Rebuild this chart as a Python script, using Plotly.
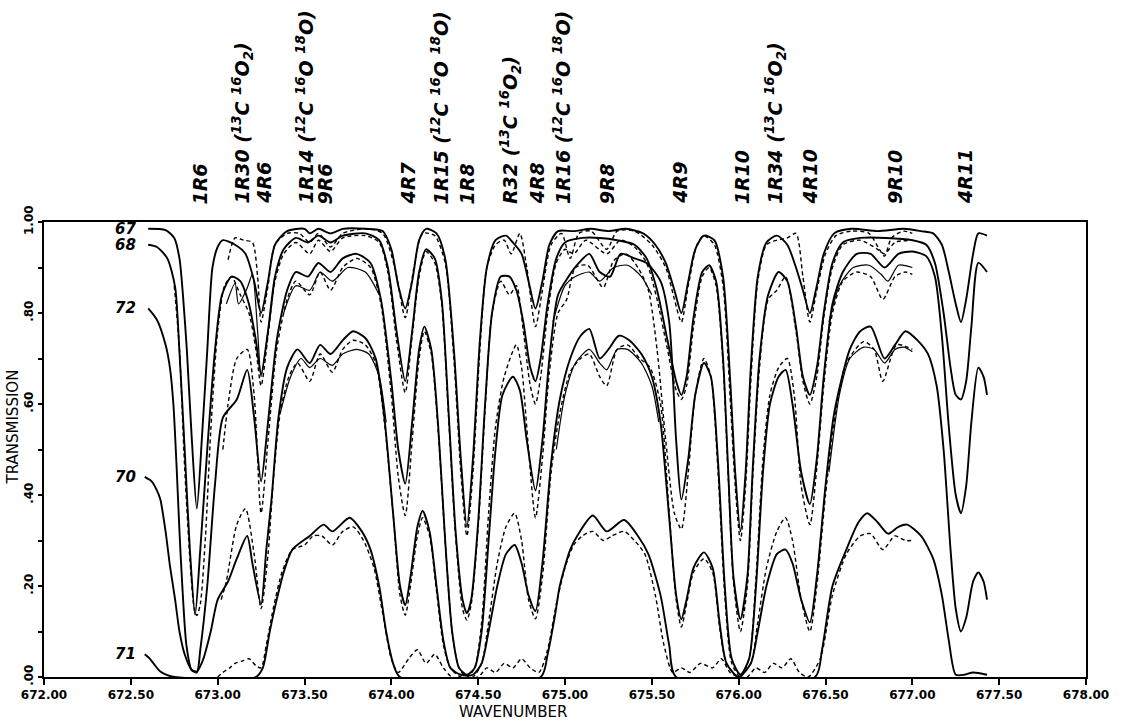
import plotly.graph_objects as go

# ---------------- data (wavenumber, transmission) ----------------
LEVEL_NAMES = ["67", "68", "72", "70", "71"]
LEVEL_START = [0.985, 0.95, 0.81, 0.44, 0.05]

CALC_67 = [(672.60,0.985),(672.70,0.982),(672.75,0.965),(672.78,0.92),(672.80,0.84),(672.823,0.716),(672.85,0.53),(672.88,0.37),(672.91,0.53),(672.94,0.717),(672.97,0.90),(673.00,0.945),(673.03,0.96),(673.10,0.95),(673.16,0.93),(673.21,0.87),(673.25,0.80),(673.29,0.87),(673.33,0.95),(673.40,0.98),(673.50,0.985),(673.53,0.975),(673.58,0.985),(673.65,0.975),(673.72,0.985),(673.85,0.985),(673.95,0.98),(674.00,0.94),(674.04,0.86),(674.08,0.81),(674.12,0.87),(674.16,0.96),(674.20,0.985),(674.26,0.975),(674.31,0.92),(674.36,0.72),(674.40,0.48),(674.435,0.33),(674.47,0.48),(674.51,0.74),(674.55,0.90),(674.60,0.96),(674.66,0.97),(674.70,0.955),(674.75,0.93),(674.79,0.87),(674.83,0.81),(674.87,0.87),(674.91,0.95),(674.96,0.98),(675.05,0.98),(675.15,0.985),(675.25,0.98),(675.35,0.985),(675.45,0.975),(675.52,0.95),(675.58,0.91),(675.63,0.85),(675.67,0.80),(675.71,0.87),(675.75,0.94),(675.80,0.97),(675.86,0.96),(675.91,0.88),(675.95,0.66),(675.98,0.45),(676.01,0.32),(676.04,0.45),(676.07,0.68),(676.11,0.88),(676.16,0.955),(676.22,0.97),(676.28,0.95),(676.33,0.90),(676.37,0.85),(676.41,0.80),(676.45,0.86),(676.49,0.93),(676.55,0.975),(676.65,0.985),(676.80,0.98),(676.95,0.985),(677.05,0.98),(677.12,0.975),(677.17,0.95),(677.21,0.89),(677.25,0.82),(677.28,0.78),(677.31,0.83),(677.35,0.93),(677.38,0.975),(677.43,0.97)]

CALC_68 = [(672.60,0.95),(672.65,0.945),(672.71,0.92),(672.755,0.857),(672.78,0.715),(672.81,0.50),(672.84,0.28),(672.87,0.137),(672.90,0.28),(672.94,0.50),(672.985,0.72),(673.025,0.84),(673.08,0.88),(673.13,0.87),(673.18,0.82),(673.22,0.74),(673.25,0.665),(673.29,0.76),(673.33,0.88),(673.38,0.94),(673.45,0.965),(673.52,0.955),(673.58,0.97),(673.65,0.955),(673.72,0.97),(673.85,0.975),(673.93,0.96),(673.98,0.90),(674.03,0.76),(674.08,0.65),(674.12,0.76),(674.16,0.89),(674.20,0.94),(674.25,0.92),(674.29,0.83),(674.33,0.58),(674.37,0.32),(674.41,0.17),(674.435,0.14),(674.46,0.17),(674.50,0.34),(674.54,0.60),(674.58,0.80),(674.63,0.88),(674.68,0.88),(674.72,0.85),(674.76,0.78),(674.80,0.68),(674.83,0.65),(674.86,0.70),(674.90,0.82),(674.95,0.92),(675.00,0.955),(675.10,0.965),(675.20,0.965),(675.30,0.96),(675.40,0.95),(675.47,0.92),(675.53,0.85),(675.59,0.74),(675.64,0.65),(675.67,0.62),(675.70,0.66),(675.74,0.79),(675.79,0.89),(675.83,0.905),(675.87,0.87),(675.91,0.70),(675.94,0.45),(675.97,0.22),(676.01,0.127),(676.05,0.22),(676.08,0.45),(676.12,0.70),(676.17,0.84),(676.23,0.89),(676.28,0.87),(676.33,0.77),(676.37,0.66),(676.41,0.62),(676.45,0.68),(676.49,0.80),(676.54,0.91),(676.60,0.955),(676.70,0.965),(676.85,0.965),(677.00,0.96),(677.08,0.95),(677.13,0.91),(677.18,0.80),(677.22,0.68),(677.25,0.62),(677.28,0.61),(677.31,0.65),(677.34,0.77),(677.38,0.91),(677.43,0.89)]

CALC_72 = [(672.60,0.81),(672.65,0.785),(672.70,0.73),(672.725,0.68),(672.745,0.60),(672.765,0.45),(672.78,0.32),(672.795,0.21),(672.82,0.07),(672.85,0.015),(672.88,0.01),(672.90,0.06),(672.94,0.20),(672.985,0.425),(673.03,0.57),(673.11,0.61),(673.17,0.675),(673.21,0.57),(673.25,0.43),(673.29,0.56),(673.34,0.74),(673.40,0.85),(673.45,0.89),(673.52,0.88),(673.58,0.91),(673.65,0.89),(673.72,0.92),(673.80,0.93),(673.88,0.91),(673.94,0.83),(674.00,0.65),(674.04,0.50),(674.08,0.425),(674.12,0.56),(674.16,0.72),(674.19,0.77),(674.23,0.72),(674.27,0.55),(674.31,0.30),(674.35,0.10),(674.39,0.02),(674.435,0.005),(674.48,0.02),(674.52,0.10),(674.56,0.30),(674.60,0.50),(674.64,0.62),(674.70,0.66),(674.74,0.63),(674.78,0.52),(674.83,0.41),(674.87,0.52),(674.91,0.70),(674.96,0.84),(675.02,0.88),(675.08,0.91),(675.14,0.93),(675.20,0.89),(675.26,0.88),(675.32,0.93),(675.40,0.92),(675.47,0.91),(675.55,0.87),(675.60,0.78),(675.64,0.52),(675.67,0.39),(675.71,0.48),(675.75,0.62),(675.80,0.69),(675.84,0.66),(675.88,0.48),(675.92,0.20),(675.96,0.04),(676.01,0.005),(676.06,0.04),(676.10,0.20),(676.14,0.45),(676.18,0.60),(676.23,0.66),(676.27,0.675),(676.31,0.60),(676.36,0.45),(676.41,0.38),(676.45,0.48),(676.49,0.66),(676.54,0.82),(676.60,0.89),(676.68,0.93),(676.76,0.93),(676.84,0.90),(676.92,0.93),(677.00,0.935),(677.08,0.925),(677.13,0.88),(677.17,0.75),(677.21,0.55),(677.25,0.40),(677.28,0.36),(677.31,0.42),(677.34,0.56),(677.38,0.68),(677.41,0.66),(677.43,0.62)]

CALC_70 = [(672.58,0.44),(672.62,0.43),(672.65,0.41),(672.67,0.39),(672.70,0.32),(672.725,0.245),(672.755,0.17),(672.78,0.10),(672.81,0.05),(672.85,0.016),(672.88,0.012),(672.915,0.037),(672.96,0.10),(673.00,0.17),(673.06,0.21),(673.11,0.26),(673.17,0.31),(673.20,0.25),(673.25,0.16),(673.28,0.28),(673.31,0.39),(673.35,0.57),(673.40,0.68),(673.46,0.72),(673.53,0.69),(673.59,0.73),(673.65,0.71),(673.72,0.74),(673.78,0.76),(673.85,0.745),(673.91,0.70),(673.96,0.57),(674.01,0.36),(674.05,0.20),(674.08,0.158),(674.11,0.22),(674.15,0.33),(674.18,0.365),(674.22,0.32),(674.26,0.20),(674.30,0.08),(674.34,0.02),(674.40,0.005),(674.47,0.005),(674.52,0.03),(674.56,0.10),(674.61,0.20),(674.66,0.27),(674.71,0.29),(674.75,0.25),(674.79,0.18),(674.83,0.145),(674.87,0.25),(674.92,0.47),(674.97,0.61),(675.03,0.70),(675.09,0.75),(675.14,0.765),(675.20,0.70),(675.25,0.72),(675.31,0.75),(675.37,0.74),(675.44,0.71),(675.50,0.66),(675.55,0.56),(675.60,0.35),(675.64,0.18),(675.67,0.127),(675.70,0.17),(675.74,0.24),(675.80,0.274),(675.85,0.24),(675.89,0.12),(675.93,0.03),(676.00,0.0),(676.07,0.03),(676.11,0.10),(676.16,0.20),(676.22,0.27),(676.27,0.28),(676.31,0.25),(676.36,0.17),(676.41,0.12),(676.45,0.22),(676.50,0.42),(676.55,0.58),(676.64,0.72),(676.70,0.76),(676.76,0.77),(676.84,0.70),(676.90,0.73),(676.96,0.76),(677.03,0.74),(677.09,0.71),(677.14,0.64),(677.18,0.50),(677.22,0.28),(677.25,0.15),(677.28,0.10),(677.31,0.13),(677.35,0.21),(677.38,0.23),(677.41,0.21),(677.43,0.17)]

CALC_71 = [(672.58,0.05),(672.61,0.04),(672.64,0.025),(672.67,0.012),(672.71,0.004),(672.75,0.0),(673.22,0.0),(673.26,0.02),(673.30,0.10),(673.34,0.17),(673.38,0.23),(673.43,0.28),(673.53,0.31),(673.61,0.335),(673.66,0.32),(673.76,0.35),(673.83,0.32),(673.88,0.28),(673.93,0.20),(673.97,0.10),(674.01,0.03),(674.05,0.0),(674.86,0.0),(674.90,0.05),(674.94,0.13),(674.97,0.20),(675.03,0.28),(675.07,0.31),(675.16,0.355),(675.24,0.32),(675.34,0.345),(675.42,0.31),(675.48,0.27),(675.55,0.18),(675.60,0.07),(675.64,0.0),(676.44,0.0),(676.48,0.06),(676.54,0.20),(676.62,0.28),(676.69,0.34),(676.74,0.36),(676.80,0.34),(676.86,0.315),(676.92,0.33),(676.97,0.335),(677.05,0.31),(677.12,0.26),(677.17,0.18),(677.21,0.08),(677.25,0.005),(677.30,0.005),(677.35,0.01),(677.43,0.005)]

DASH_67 = [(673.06,0.917),(673.10,0.965),(673.15,0.96),(673.20,0.955),(673.23,0.88),(673.25,0.78),(673.29,0.86),(673.33,0.95),(673.40,0.975),(673.47,0.975),(673.53,0.955),(673.58,0.975),(673.65,0.945),(673.72,0.975),(673.85,0.985),(673.95,0.975),(674.02,0.90),(674.08,0.79),(674.13,0.90),(674.18,0.975),(674.25,0.97),(674.31,0.91),(674.36,0.70),(674.40,0.45),(674.435,0.31),(674.47,0.45),(674.51,0.72),(674.55,0.90),(674.60,0.95),(674.65,0.96),(674.69,0.93),(674.74,0.975),(674.78,0.90),(674.83,0.77),(674.87,0.85),(674.92,0.95),(674.98,0.975),(675.03,0.92),(675.08,0.975),(675.15,0.98),(675.24,0.94),(675.30,0.98),(675.40,0.98),(675.50,0.95),(675.58,0.90),(675.63,0.83),(675.67,0.78),(675.71,0.86),(675.76,0.95),(675.80,0.97),(675.86,0.95),(675.91,0.86),(675.95,0.62),(675.98,0.42),(676.01,0.30),(676.04,0.42),(676.07,0.65),(676.11,0.87),(676.16,0.95),(676.22,0.96),(676.28,0.965),(676.33,0.975),(676.37,0.88),(676.41,0.78),(676.45,0.85),(676.50,0.93),(676.56,0.97),(676.65,0.98),(676.75,0.975),(676.81,0.94),(676.84,0.925),(676.88,0.965),(676.95,0.98),(677.00,0.975)]

DASH_68 = [(672.75,0.86),(672.78,0.72),(672.81,0.46),(672.84,0.26),(672.865,0.15),(672.88,0.135),(672.90,0.16),(672.93,0.31),(672.96,0.54),(673.00,0.76),(673.04,0.86),(673.08,0.88),(673.13,0.84),(673.18,0.80),(673.22,0.72),(673.25,0.64),(673.29,0.75),(673.33,0.87),(673.38,0.93),(673.45,0.955),(673.53,0.93),(673.58,0.96),(673.65,0.935),(673.72,0.965),(673.85,0.97),(673.93,0.955),(673.98,0.89),(674.03,0.74),(674.08,0.625),(674.12,0.75),(674.16,0.88),(674.20,0.935),(674.25,0.91),(674.29,0.82),(674.33,0.57),(674.37,0.31),(674.41,0.15),(674.435,0.125),(674.46,0.16),(674.50,0.33),(674.54,0.59),(674.58,0.80),(674.63,0.87),(674.68,0.84),(674.72,0.86),(674.76,0.76),(674.80,0.64),(674.83,0.60),(674.86,0.66),(674.90,0.80),(674.95,0.91),(675.00,0.94),(675.05,0.93),(675.12,0.96),(675.24,0.93),(675.32,0.96),(675.40,0.945),(675.47,0.91),(675.53,0.83),(675.59,0.72),(675.64,0.63),(675.67,0.61),(675.70,0.64),(675.74,0.77),(675.79,0.88),(675.83,0.90),(675.87,0.86),(675.91,0.69),(675.94,0.44),(675.97,0.21),(676.01,0.10),(676.05,0.20),(676.08,0.43),(676.12,0.68),(676.17,0.83),(676.22,0.85),(676.27,0.88),(676.33,0.76),(676.37,0.65),(676.41,0.60),(676.45,0.66),(676.49,0.79),(676.54,0.90),(676.60,0.95),(676.70,0.96),(676.80,0.94),(676.84,0.93),(676.90,0.955),(677.00,0.96)]

DASH_72 = [(673.03,0.50),(673.06,0.60),(673.11,0.70),(673.17,0.72),(673.21,0.62),(673.25,0.36),(673.29,0.52),(673.34,0.72),(673.40,0.83),(673.45,0.87),(673.53,0.84),(673.59,0.89),(673.65,0.85),(673.72,0.90),(673.80,0.92),(673.88,0.90),(673.94,0.82),(674.00,0.62),(674.04,0.44),(674.08,0.355),(674.12,0.52),(674.16,0.70),(674.19,0.76),(674.23,0.71),(674.27,0.54),(674.31,0.30),(674.35,0.10),(674.39,0.02),(674.435,0.0),(674.48,0.02),(674.52,0.12),(674.56,0.36),(674.60,0.55),(674.65,0.66),(674.72,0.73),(674.75,0.68),(674.79,0.50),(674.83,0.35),(674.87,0.48),(674.91,0.67),(674.96,0.80),(675.01,0.83),(675.06,0.90),(675.13,0.905),(675.22,0.856),(675.28,0.915),(675.35,0.93),(675.42,0.90),(675.48,0.85),(675.53,0.72),(675.58,0.52),(675.63,0.36),(675.67,0.325),(675.71,0.45),(675.75,0.62),(675.80,0.70),(675.84,0.66),(675.88,0.46),(675.92,0.18),(675.96,0.03),(676.01,0.0),(676.06,0.04),(676.10,0.22),(676.14,0.48),(676.18,0.62),(676.23,0.68),(676.28,0.70),(676.32,0.62),(676.36,0.42),(676.41,0.335),(676.45,0.46),(676.49,0.64),(676.54,0.80),(676.60,0.87),(676.68,0.89),(676.76,0.88),(676.83,0.83),(676.90,0.88),(676.96,0.89),(677.00,0.885)]

DASH_70 = [(673.02,0.17),(673.05,0.21),(673.11,0.335),(673.16,0.37),(673.21,0.27),(673.25,0.15),(673.29,0.27),(673.32,0.43),(673.36,0.58),(673.41,0.66),(673.46,0.69),(673.53,0.65),(673.59,0.71),(673.66,0.67),(673.72,0.72),(673.78,0.74),(673.85,0.73),(673.91,0.69),(673.96,0.56),(674.01,0.36),(674.05,0.18),(674.08,0.136),(674.11,0.20),(674.15,0.31),(674.18,0.35),(674.22,0.31),(674.26,0.19),(674.30,0.07),(674.34,0.02),(674.40,0.0),(674.47,0.0),(674.52,0.03),(674.56,0.12),(674.61,0.25),(674.66,0.33),(674.71,0.36),(674.75,0.30),(674.79,0.17),(674.83,0.128),(674.87,0.22),(674.92,0.45),(674.97,0.58),(675.03,0.67),(675.09,0.70),(675.14,0.71),(675.20,0.66),(675.24,0.64),(675.30,0.72),(675.36,0.73),(675.43,0.70),(675.49,0.68),(675.55,0.60),(675.60,0.36),(675.64,0.17),(675.67,0.11),(675.70,0.16),(675.74,0.23),(675.80,0.26),(675.85,0.23),(675.89,0.11),(675.93,0.03),(676.00,0.0),(676.07,0.03),(676.11,0.12),(676.16,0.24),(676.22,0.32),(676.27,0.35),(676.31,0.30),(676.36,0.17),(676.41,0.10),(676.45,0.20),(676.50,0.40),(676.55,0.56),(676.62,0.69),(676.72,0.737),(676.78,0.72),(676.83,0.65),(676.91,0.73),(677.00,0.72)]

DASH_71 = [(673.00,0.0),(673.03,0.01),(673.07,0.02),(673.10,0.03),(673.14,0.035),(673.18,0.04),(673.22,0.025),(673.25,0.02),(673.28,0.07),(673.32,0.15),(673.37,0.23),(673.43,0.28),(673.50,0.29),(673.55,0.31),(673.60,0.31),(673.66,0.29),(673.72,0.32),(673.78,0.33),(673.84,0.30),(673.90,0.24),(673.95,0.14),(674.00,0.04),(674.04,0.01),(674.10,0.04),(674.15,0.06),(674.20,0.03),(674.25,0.05),(674.30,0.02),(674.35,0.0),(674.50,0.0),(674.55,0.02),(674.60,0.01),(674.65,0.03),(674.70,0.02),(674.75,0.04),(674.80,0.02),(674.85,0.01),(674.90,0.06),(674.95,0.16),(675.00,0.24),(675.05,0.29),(675.10,0.31),(675.16,0.32),(675.22,0.30),(675.27,0.31),(675.34,0.32),(675.40,0.30),(675.46,0.27),(675.52,0.18),(675.57,0.07),(675.62,0.01),(675.67,0.02),(675.72,0.01),(675.78,0.03),(675.85,0.02),(675.90,0.04),(675.95,0.01),(676.00,0.0),(676.05,0.0),(676.10,0.02),(676.15,0.01),(676.20,0.03),(676.25,0.02),(676.30,0.04),(676.35,0.01),(676.40,0.0),(676.47,0.04),(676.54,0.18),(676.62,0.27),(676.70,0.31),(676.76,0.315),(676.83,0.28),(676.90,0.31),(676.96,0.30),(677.00,0.30)]

MEAS_68 = [(673.05,0.82),(673.10,0.865),(673.12,0.82),(673.17,0.855),(673.20,0.885),(673.23,0.76),(673.25,0.66),(673.29,0.76),(673.33,0.88)]

MEAS_72_A = [(673.38,0.80),(673.45,0.86),(673.53,0.85),(673.59,0.89),(673.66,0.87),(673.75,0.90),(673.85,0.89),(673.93,0.84)]
MEAS_72_B = [(674.93,0.78),(675.00,0.86),(675.06,0.88),(675.14,0.89),(675.20,0.87),(675.28,0.90),(675.36,0.905),(675.44,0.88),(675.50,0.84)]
MEAS_72_C = [(676.52,0.78),(676.58,0.86),(676.66,0.90),(676.75,0.905),(676.82,0.885),(676.86,0.87),(676.92,0.905),(677.00,0.90)]

MEAS_70_A = [(673.36,0.58),(673.42,0.66),(673.48,0.70),(673.53,0.68),(673.59,0.70),(673.66,0.685),(673.72,0.71),(673.80,0.72),(673.87,0.71),(673.93,0.66),(673.97,0.56)]
MEAS_70_B = [(674.95,0.50),(675.00,0.62),(675.06,0.69),(675.14,0.72),(675.20,0.69),(675.24,0.675),(675.30,0.72),(675.36,0.72),(675.44,0.69),(675.50,0.64),(675.54,0.56)]
MEAS_70_C = [(676.52,0.45),(676.58,0.62),(676.64,0.70),(676.72,0.725),(676.78,0.72),(676.84,0.69),(676.90,0.72),(676.95,0.725),(677.00,0.715)]

LINE_LABELS = [
    ("1R6", 672.898),
    ("1R30 (<sup>13</sup>C <sup>16</sup>O<sub>2</sub>)", 673.146),
    ("4R6", 673.265),
    ("1R14 (<sup>12</sup>C <sup>16</sup>O <sup>18</sup>O)", 673.503),
    ("9R6", 673.618),
    ("4R7", 674.095),
    ("1R15 (<sup>12</sup>C <sup>16</sup>O <sup>18</sup>O)", 674.28),
    ("1R8", 674.435),
    ("R32 (<sup>13</sup>C <sup>16</sup>O<sub>2</sub>)", 674.683),
    ("4R8", 674.84),
    ("1R16 (<sup>12</sup>C <sup>16</sup>O <sup>18</sup>O)", 674.98),
    ("9R8", 675.24),
    ("4R9", 675.66),
    ("1R10", 676.02),
    ("1R34 (<sup>13</sup>C <sup>16</sup>O<sub>2</sub>)", 676.21),
    ("4R10", 676.41),
    ("9R10", 676.90),
    ("4R11", 677.30),
]

X_TICKS = [672.0, 672.5, 673.0, 673.5, 674.0, 674.5, 675.0, 675.5, 676.0, 676.5, 677.0, 677.5, 678.0]
Y_TICKS = [0.0, 0.2, 0.4, 0.6, 0.8, 1.0]
Y_TICKTEXT = [".00", ".20", ".40", ".60", ".80", "1.00"]

# ---------------- figure ----------------
fig = go.Figure()


def add(pairs_list, width, dash="solid"):
    xs, ys = [], []
    for k, seg in enumerate(pairs_list):
        if k > 0:
            xs.append(None)
            ys.append(None)
        for a, b in seg:
            xs.append(a)
            ys.append(b)
    fig.add_trace(go.Scatter(
        x=xs, y=ys, mode="lines",
        line=dict(color="black", width=width, dash=dash, shape="spline", smoothing=0.7),
        showlegend=False, hoverinfo="skip", connectgaps=False))


for c in [CALC_67, CALC_68, CALC_72, CALC_70, CALC_71]:
    add([c], 1.9)
for d in [DASH_67, DASH_68, DASH_72, DASH_70, DASH_71]:
    add([d], 1.4, dash="4px,3px")
add([MEAS_68], 1.2)
add([MEAS_72_A, MEAS_72_B, MEAS_72_C], 1.2)
add([MEAS_70_A, MEAS_70_B, MEAS_70_C], 1.2)

label_font = dict(family="DejaVu Sans", size=19, color="black", weight="bold", style="italic")
level_font = dict(family="DejaVu Sans", size=15, color="black", weight="bold", style="italic")

annotations = []
for txt, wn in LINE_LABELS:
    annotations.append(dict(
        x=wn, y=1.035, xref="x", yref="paper", text=txt, textangle=-90,
        showarrow=False, xanchor="center", yanchor="bottom", font=label_font))

for name, t0 in zip(LEVEL_NAMES, LEVEL_START):
    annotations.append(dict(
        x=672.54, y=t0, xref="x", yref="y", text=name, showarrow=False,
        xanchor="right", yanchor="middle", font=level_font))

annotations.append(dict(
    x=-0.03, y=0.55, xref="paper", yref="paper", text="TRANSMISSION", textangle=-90,
    showarrow=False, xanchor="center", yanchor="middle",
    font=dict(family="DejaVu Sans", size=15, color="black")))
annotations.append(dict(
    x=674.70, y=-0.077, xref="x", yref="paper", text="WAVENUMBER",
    showarrow=False, xanchor="center", yanchor="middle",
    font=dict(family="DejaVu Sans", size=15, color="black")))

fig.update_layout(
    width=1124, height=726,
    margin=dict(l=44, r=38, t=222, b=49, autoexpand=False),
    paper_bgcolor="white", plot_bgcolor="white",
    annotations=annotations,
    xaxis=dict(
        range=[672.0, 678.0], tickvals=X_TICKS,
        ticktext=["%.2f" % v for v in X_TICKS], automargin=False,
        ticks="outside", ticklen=6, tickwidth=1.5, tickcolor="black",
        showline=True, linewidth=2, linecolor="black", mirror=True,
        showgrid=False, zeroline=False,
        tickfont=dict(family="DejaVu Sans", size=12, color="black", weight="bold")),
    yaxis=dict(
        range=[0.0, 1.0], tickvals=Y_TICKS, ticktext=Y_TICKTEXT, tickangle=-90,
        automargin=False,
        ticks="outside", ticklen=4, tickwidth=1.5, tickcolor="black",
        minor=dict(tickvals=[0.1, 0.3, 0.5, 0.7, 0.9], ticks="outside", ticklen=4,
                   tickwidth=1.5, tickcolor="black", showgrid=False),
        showline=True, linewidth=2, linecolor="black", mirror=True,
        showgrid=False, zeroline=False,
        tickfont=dict(family="DejaVu Sans", size=12, color="black", weight="bold")),
)

fig.write_html("out.html", config={"displayModeBar": False},
               post_script="document.body.style.margin='0px';document.body.style.padding='0px';")
